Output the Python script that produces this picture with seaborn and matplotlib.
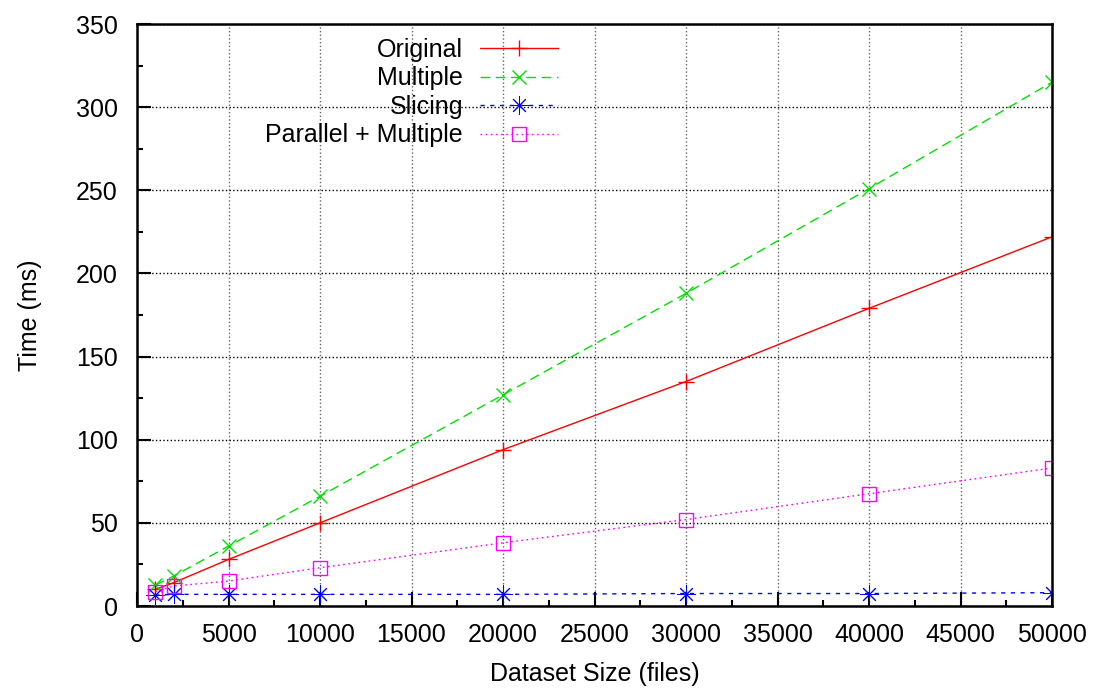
import numpy as np
import pandas as pd
import seaborn as sns
import matplotlib.pyplot as plt
from matplotlib.ticker import MultipleLocator

# data
sizes = [1000, 2000, 5000, 10000, 20000, 30000, 40000, 50000]
original = [10, 14, 28, 50, 94, 135, 179, 222]
multiple = [12.5, 18, 36, 66, 127, 188, 251, 315]
slicing = [6.5, 7, 7, 7, 7, 7.5, 7.5, 8]
parallel = [8.5, 12, 15, 23, 38, 52, 67.5, 83]

names = ['Original', 'Multiple', 'Slicing', 'Parallel + Multiple']
series = [original, multiple, slicing, parallel]
colors = ['#ff0000', '#00e000', '#0000ff', '#ff00ff']
styles = ['-', (0, (7, 4)), (0, (3, 4)), (0, (1.2, 2.5))]
marks = ['+', 'x', (8, 2, 0), 's']
msizes = [11, 10, 13, 10]
mews = [1, 1, 0.7, 1]

sns.set_style('white')
plt.rcParams['font.family'] = ['Liberation Sans', 'DejaVu Sans']
for k in ['text.color', 'axes.labelcolor', 'xtick.color', 'ytick.color']:
    plt.rcParams[k] = 'black'

fig = plt.figure(figsize=(10.95, 6.88), dpi=100)
ax = fig.add_axes([137 / 1095, 1 - 606 / 688, 915 / 1095, 582 / 688])

for name, vals, c, ls, m, ms, mw in zip(names, series, colors, styles, marks, msizes, mews):
    df = pd.DataFrame({'size': sizes, 'time': vals})
    sns.lineplot(data=df, x='size', y='time', ax=ax, color=c, linestyle=ls,
                 linewidth=1, marker=m, markersize=ms, markeredgewidth=mw,
                 markeredgecolor=c, markerfacecolor='none', label=name)

ax.set_xlim(0, 50000)
ax.set_ylim(0, 350)
ax.xaxis.set_major_locator(MultipleLocator(5000))
ax.xaxis.set_minor_locator(MultipleLocator(2500))
ax.yaxis.set_major_locator(MultipleLocator(50))
ax.yaxis.set_minor_locator(MultipleLocator(25))
ax.grid(True, which='major', axis='x', color='0.4', linestyle=':', linewidth=1)
ax.grid(True, which='major', axis='y', color='black', linestyle=':', linewidth=1)
ax.tick_params(which='major', direction='in', length=10, width=1.5,
               labelsize=18, bottom=True, left=True, top=False, right=False)
ax.tick_params(axis='y', which='major', pad=14)
ax.tick_params(axis='x', which='major', pad=12)
ax.tick_params(which='minor', direction='in', length=4.5, width=1.5,
               bottom=True, left=True, top=False, right=False)
for sp in ax.spines.values():
    sp.set_color('black')
    sp.set_linewidth(1.8)

ax.set_xlabel('Dataset Size (files)', fontsize=18, labelpad=11)
ax.set_ylabel('Time (ms)', fontsize=18, labelpad=24)

ax.legend(loc='upper right', bbox_to_anchor=(0.46, 0.976), frameon=False,
          markerfirst=False, fontsize=18, handlelength=3.1, handletextpad=0.7,
          labelspacing=0.18, borderpad=0, borderaxespad=0)

fig.savefig('out.png', dpi=100)
